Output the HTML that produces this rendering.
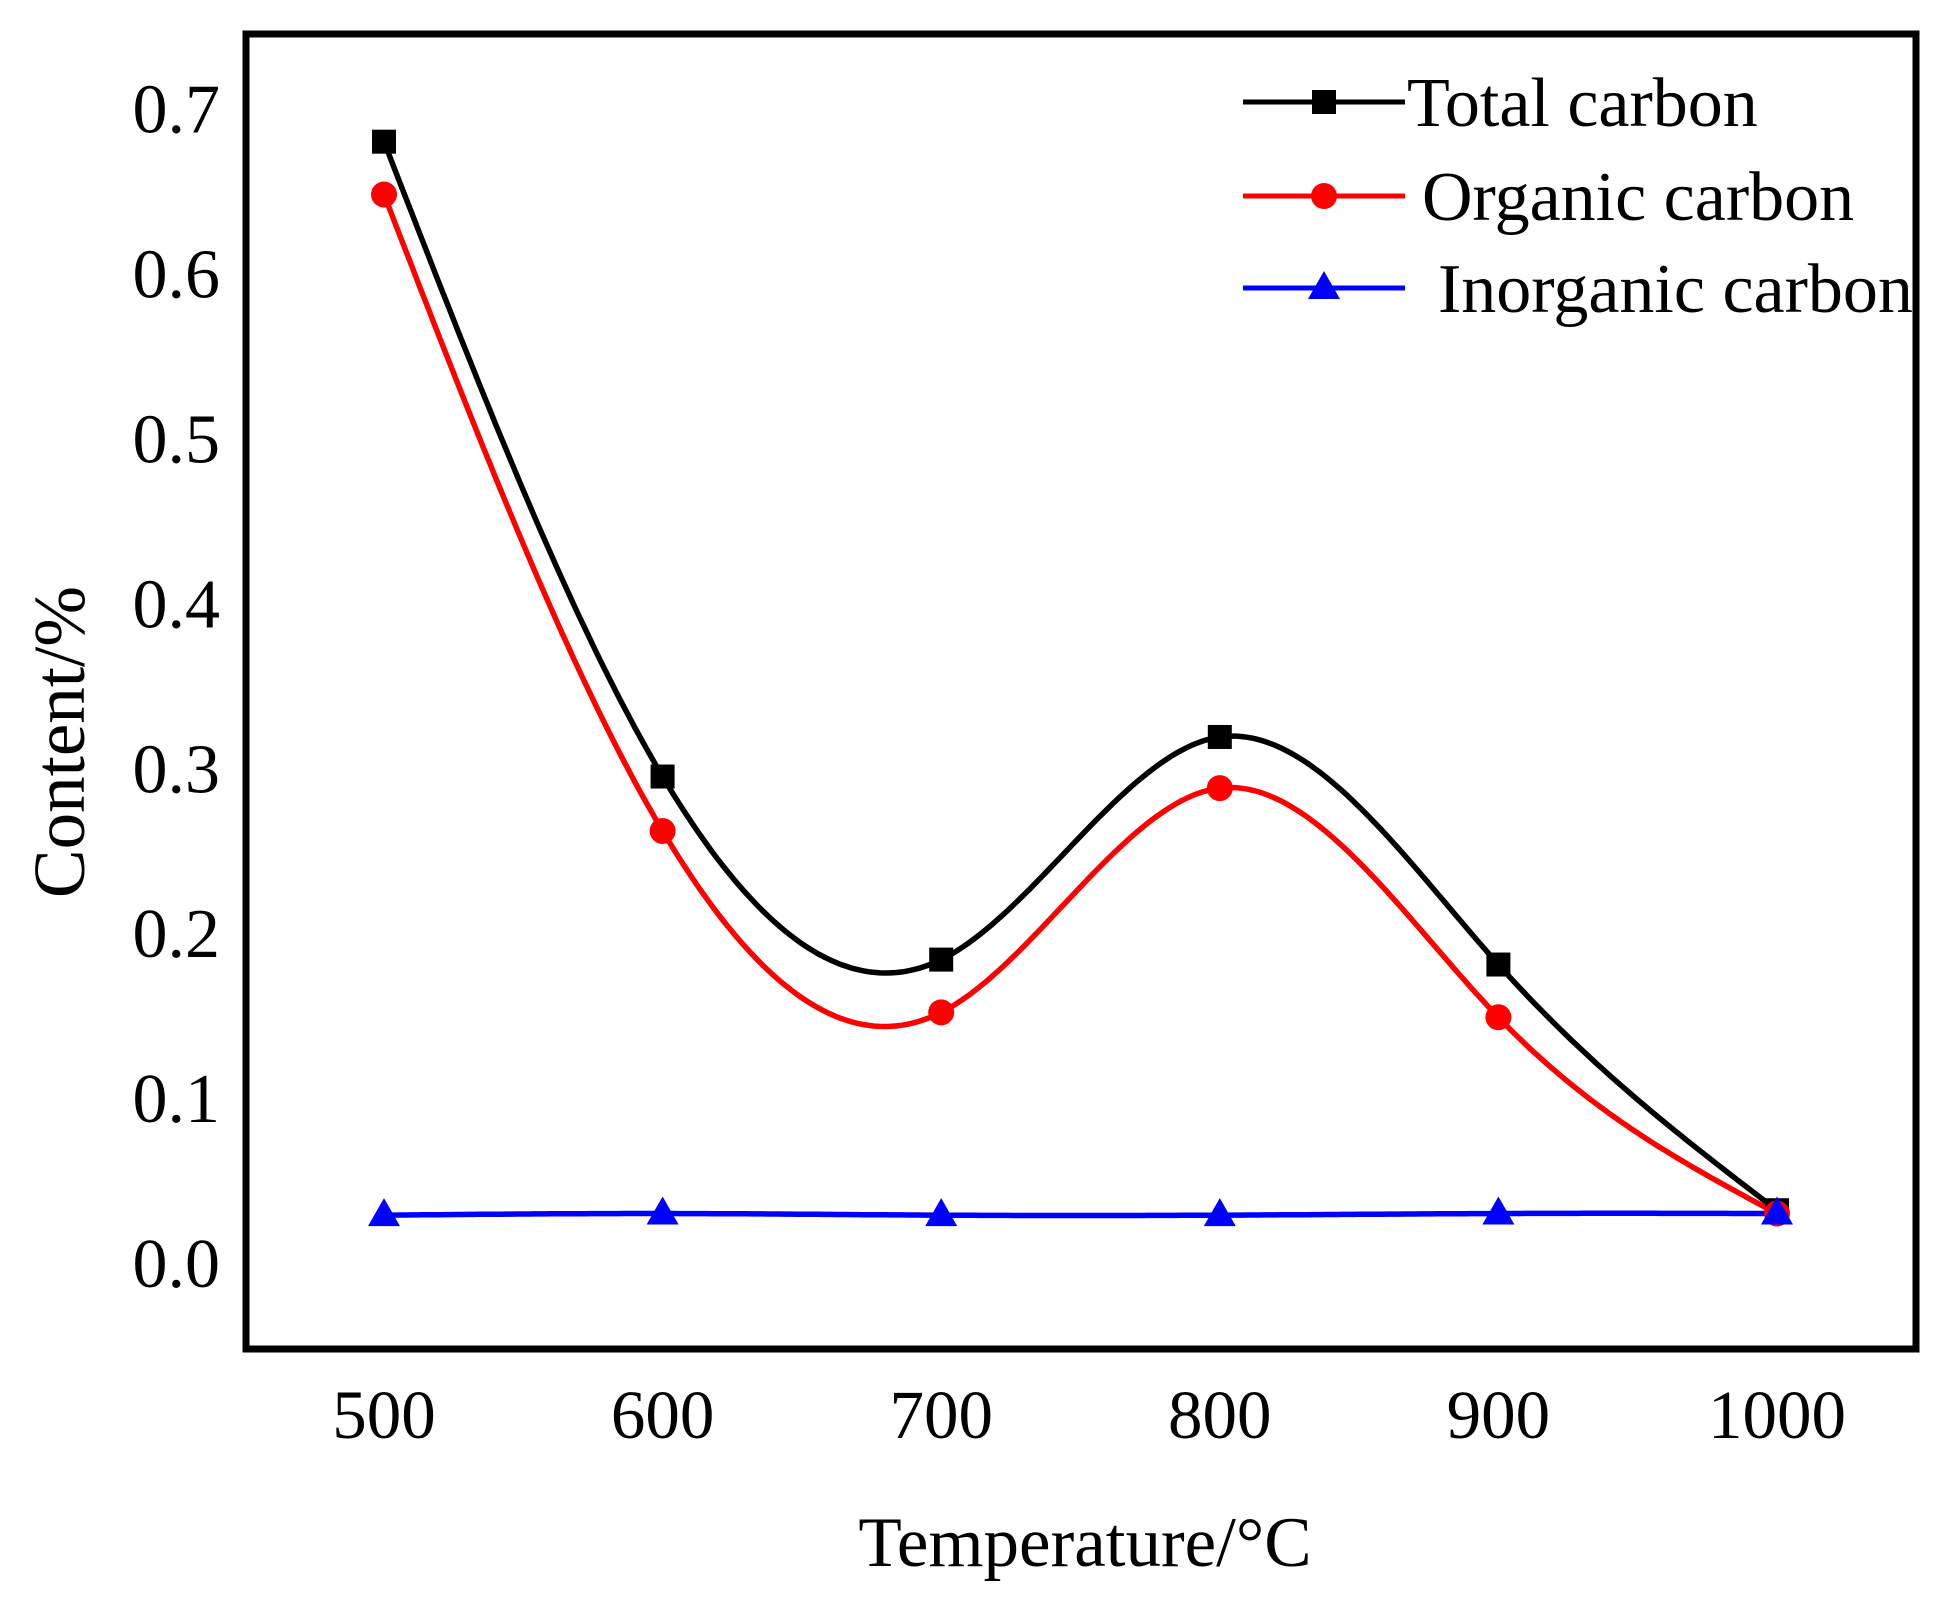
<!DOCTYPE html>
<html><head><meta charset="utf-8"><style>
html,body{margin:0;padding:0;background:#fff}
svg{display:block}
text{font-family:"Liberation Serif",serif;fill:#000}
</style></head><body>
<svg id="chart" width="1942" height="1605" viewBox="0 0 1942 1605">
<rect x="246" y="34" width="1670" height="1315" fill="none" stroke="#000" stroke-width="7"/>
<g id="ticks"></g>
<g id="series"></g>
<text x="1085" y="1566" font-size="71" text-anchor="middle">Temperature/°C</text>
<text transform="translate(84,742) rotate(-90)" font-size="73" text-anchor="middle">Content/%</text>
<g id="legend"></g>
</svg>
<script>
const temps=[500,600,700,800,900,1000];
const totalCarbon=[0.68,0.295,0.184,0.319,0.181,0.032];
const organicCarbon=[0.648,0.262,0.152,0.288,0.149,0.030];
const inorganicCarbon=[0.029,0.030,0.029,0.029,0.030,0.030];
const yTicks=[0,0.1,0.2,0.3,0.4,0.5,0.6,0.7];
const yTickLabels=["0.0","0.1","0.2","0.3","0.4","0.5","0.6","0.7"];
const xTickLabels=["500","600","700","800","900","1000"];
const seriesNames=["Total carbon","Organic carbon","Inorganic carbon"];

const NS="http://www.w3.org/2000/svg";
function X(v){return 384+(v-500)*2.786;}
function Y(v){return 1263-v*1649;}
function mk(tag,attrs,parent){const e=document.createElementNS(NS,tag);for(const k in attrs)e.setAttribute(k,attrs[k]);parent.appendChild(e);return e;}

const ticks=document.getElementById('ticks');
yTicks.forEach((v,i)=>{
  const t=mk('text',{x:220,y:Y(v)+24,'font-size':70,'text-anchor':'end'},ticks);
  t.textContent=yTickLabels[i];
  
  
});
temps.forEach((v,i)=>{
  const t=mk('text',{x:X(v),y:1438,'font-size':69,'text-anchor':'middle'},ticks);
  t.textContent=xTickLabels[i];
  
  
});

function spline(xs,ys){
  const n=xs.length,h=[],a=[],l=[1],mu=[0],z=[0],c=new Array(n).fill(0),b=[],d=[];
  for(let i=0;i<n-1;i++)h.push(xs[i+1]-xs[i]);
  for(let i=1;i<n-1;i++)a[i]=3/h[i]*(ys[i+1]-ys[i])-3/h[i-1]*(ys[i]-ys[i-1]);
  for(let i=1;i<n-1;i++){l[i]=2*(xs[i+1]-xs[i-1])-h[i-1]*mu[i-1];mu[i]=h[i]/l[i];z[i]=(a[i]-h[i-1]*z[i-1])/l[i];}
  for(let j=n-2;j>=0;j--){c[j]=(j>0?z[j]-mu[j]*c[j+1]:0);if(j===0)c[0]=0;b[j]=(ys[j+1]-ys[j])/h[j]-h[j]*(c[j+1]+2*c[j])/3;d[j]=(c[j+1]-c[j])/(3*h[j]);}
  return function(x){let j=Math.min(n-2,Math.max(0,xs.findIndex((v,k)=>k<n-1&&x<=xs[k+1])));const t=x-xs[j];return ys[j]+b[j]*t+c[j]*t*t+d[j]*t*t*t;};
}
function marker(type,cx,cy,color,parent,name){
  let e;
  if(type==='square')e=mk('rect',{x:cx-12,y:cy-12,width:24,height:24,fill:color},parent);
  else if(type==='circle')e=mk('circle',{cx:cx,cy:cy,r:13,fill:color},parent);
  else e=mk('polygon',{points:`${cx},${cy-17} ${cx+16},${cy+11} ${cx-16},${cy+11}`,fill:color},parent);
  
  
}
const sg=document.getElementById('series');
const defs=[[totalCarbon,'#000','square','total-carbon'],[organicCarbon,'#ff0000','circle','organic-carbon'],[inorganicCarbon,'#0000ff','triangle','inorganic-carbon']];
defs.forEach(([vals,color,type,name])=>{
  const f=spline(temps,vals);let d='';
  for(let x=500;x<=1000;x+=2){d+=(x===500?'M':'L')+X(x).toFixed(1)+','+Y(f(x)).toFixed(1);}
  const p=mk('path',{d:d,fill:'none',stroke:color,'stroke-width':5.5},sg);
  
  
});
defs.forEach(([vals,color,type,name])=>{
  temps.forEach((t,i)=>marker(type,X(t),Y(vals[i]),color,sg,name+'-marker'));
});
const lg=document.getElementById('legend');
const ly=[102,196,288],lx=[1407,1422,1438];
defs.forEach(([vals,color,type,name],i)=>{
  const g=mk('g',{},lg);
  
  
  const ln=mk('line',{x1:1243,x2:1405,y1:ly[i],y2:ly[i],stroke:color,'stroke-width':5},g);
  
  
  marker(type,1324,ly[i],color,g,'legend-marker');
  const t=mk('text',{x:lx[i],y:ly[i]+24,'font-size':70},g);
  t.textContent=seriesNames[i];
  
  
});
</script>
</body></html>
